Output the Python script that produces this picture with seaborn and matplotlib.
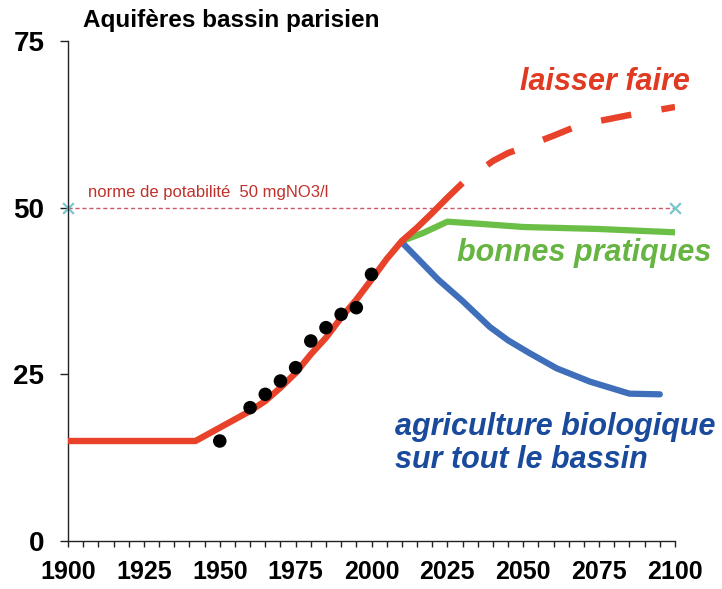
import matplotlib
matplotlib.use("Agg")
import matplotlib.pyplot as plt
from matplotlib.ticker import MultipleLocator
import pandas as pd
import seaborn as sns

# -------------------------------------------------------------
# Données (teneur en nitrates, mg/l)
# -------------------------------------------------------------
obs_years = [1950, 1960, 1965, 1970, 1975, 1980, 1985, 1990, 1995, 2000]
obs_vals = [15, 20, 22, 24, 26, 30, 32, 34, 35, 40]

hist_years = [1900, 1942, 1950, 1960, 1965, 1970, 1975, 1980, 1985, 1990,
              1995, 2000, 2005, 2010, 2015, 2020, 2025, 2030]
hist_vals = [15, 15, 17, 19.5, 21, 23, 25.2, 28, 30.5, 33.5,
             36.2, 39.2, 42.3, 45, 47, 49.2, 51.5, 53.7]

laisser_years = [2030, 2040, 2045, 2050, 2056, 2060, 2067, 2075, 2085, 2100]
laisser_vals = [53.7, 57, 58.2, 59, 60.1, 60.8, 62.1, 63, 63.9, 65.1]

bonnes_years = [2010, 2017, 2025, 2035, 2050, 2075, 2100]
bonnes_vals = [45, 46.2, 47.9, 47.6, 47.1, 46.8, 46.3]

bio_years = [2010, 2022, 2030, 2039, 2045, 2052, 2061, 2072, 2085, 2095]
bio_vals = [44.8, 39.2, 36, 32.1, 30.1, 28.2, 25.9, 23.9, 22.1, 22.0]

norme_years = [1900, 2100]
norme_vals = [50, 50]

x_ticks = [1900, 1925, 1950, 1975, 2000, 2025, 2050, 2075, 2100]
y_ticks = [0, 25, 50, 75]

RED = "#E8432A"
GREEN = "#6BBF47"
BLUE = "#3F6FBA"

sns.set_theme(style="ticks")
plt.rcParams["font.family"] = ["Liberation Sans", "DejaVu Sans"]

fig = plt.figure(figsize=(7.22, 5.89), dpi=100)
ax = fig.add_axes([68 / 722, 48 / 589, 607 / 722, 500 / 589])

# norme de potabilité
sns.lineplot(x=norme_years, y=norme_vals, ax=ax, color="#C85A6E", lw=1,
             linestyle=(0, (3, 2)), zorder=1)
sns.scatterplot(x=norme_years, y=norme_vals, ax=ax, marker="x", s=60,
                color="#7CC6CE", linewidth=1.6, zorder=2, clip_on=False)

# scénarios
sns.lineplot(x=hist_years, y=hist_vals, ax=ax, color=RED, lw=4.6,
             solid_capstyle="butt", zorder=3)
sns.lineplot(x=laisser_years, y=laisser_vals, ax=ax, color=RED, lw=4.6,
             linestyle=(4.8, (4.8, 4.8)), dash_capstyle="butt", zorder=3)
sns.lineplot(x=bonnes_years, y=bonnes_vals, ax=ax, color=GREEN, lw=4.5,
             zorder=2)
sns.lineplot(x=bio_years, y=bio_vals, ax=ax, color=BLUE, lw=4.5, zorder=2)

# mesures
sns.scatterplot(x=obs_years, y=obs_vals, ax=ax, color="black", s=95,
                edgecolor="none", zorder=4)

# textes
ax.text(1906.5, 51.2, "norme de potabilité  50 mgNO3/l", fontsize=12,
        color="#C0312B", ha="left", va="bottom")
ax.text(2049, 68.9, "laisser faire", fontsize=22, fontweight="bold",
        fontstyle="italic", color="#E03A22", ha="left", va="center")
ax.text(2028.2, 43.2, "bonnes pratiques", fontsize=22, fontweight="bold",
        fontstyle="italic", color="#66B542", ha="left", va="center")
ax.text(2007.7, 14.6, "agriculture biologique\nsur tout le bassin",
        fontsize=22, fontweight="bold", fontstyle="italic", color="#1A4A9C",
        ha="left", va="center", linespacing=1.15)
fig.text(83 / 722, 1 - 20 / 589, "Aquifères bassin parisien", fontsize=17.5,
         fontweight="bold", color="black", ha="left", va="center")

# axes
ax.set_xlim(1900, 2100)
ax.set_ylim(0, 75)
ax.set_xticks(x_ticks)
ax.set_yticks(y_ticks)
ax.xaxis.set_minor_locator(MultipleLocator(5))
ax.tick_params(axis="x", which="both", length=4.5, width=1, color="#222222",
               direction="out", pad=9, labelsize=18, labelcolor="black")
ax.tick_params(axis="y", length=6, width=1, color="#222222", direction="out",
               pad=11, labelsize=20, labelcolor="black")
for lab in ax.get_xticklabels() + ax.get_yticklabels():
    lab.set_fontweight("bold")
ax.set_xlabel("")
ax.set_ylabel("")
sns.despine(ax=ax)
for s in ["left", "bottom"]:
    ax.spines[s].set_linewidth(1)
    ax.spines[s].set_color("#222222")

fig.savefig("out.png", dpi=100)
plt.close(fig)
